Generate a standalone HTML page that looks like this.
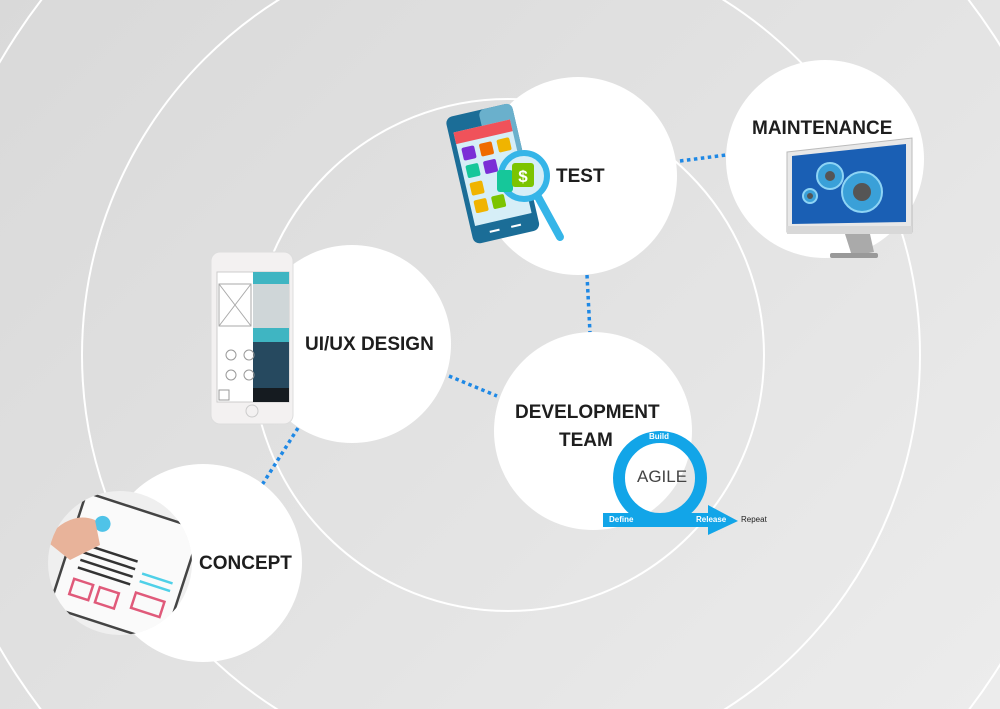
<!DOCTYPE html>
<html><head><meta charset="utf-8"><style>
html,body{margin:0;padding:0;width:1000px;height:709px;overflow:hidden}
body{background:linear-gradient(135deg,#d9d9d9 0%,#e2e2e2 50%,#ececec 100%);font-family:"Liberation Sans",sans-serif;position:relative}
svg{display:block}
</style></head><body>
<svg width="1000" height="709" viewBox="0 0 1000 709" xmlns="http://www.w3.org/2000/svg" style="position:absolute;left:0;top:0">
<defs><clipPath id="cc"><circle cx="120" cy="563" r="72"/></clipPath></defs>
<g fill="none" stroke="#fff" stroke-width="2">
<circle cx="508" cy="355" r="256"/>
<circle cx="501" cy="355" r="419"/>
<circle cx="505" cy="355" r="584"/>
</g>
<g stroke="#1e88e5" stroke-width="3.5" stroke-dasharray="3.5 3.5" fill="none">
<line x1="680" y1="161" x2="726" y2="155"/>
<line x1="587" y1="275" x2="590" y2="333"/>
<line x1="449" y1="376" x2="497" y2="396"/>
<line x1="298" y1="428" x2="262" y2="485"/>
</g>
<g fill="#fff">
<circle cx="578" cy="176" r="99"/>
<circle cx="825" cy="159" r="99"/>
<circle cx="352" cy="344" r="99"/>
<circle cx="593" cy="431" r="99"/>
<circle cx="203" cy="563" r="99"/>
</g>
<g transform="translate(445,118) rotate(-13)">
<rect x="0" y="0" width="68" height="130" rx="7" fill="#1b6d97"/>
<rect x="34" y="0" width="34" height="60" rx="6" fill="#6ab0cc"/>
<rect x="5" y="16" width="58" height="96" fill="#d6eef7"/>
<rect x="5" y="16" width="58" height="12" fill="#f0525a"/>
<rect x="9" y="33" width="13" height="13" rx="2" fill="#7b2fd6"/>
<rect x="27" y="33" width="13" height="13" rx="2" fill="#ef6c00"/>
<rect x="45" y="33" width="13" height="13" rx="2" fill="#f0b400"/>
<rect x="9" y="51" width="13" height="13" rx="2" fill="#16c79a"/>
<rect x="27" y="51" width="13" height="13" rx="2" fill="#7b2fd6"/>
<rect x="9" y="69" width="13" height="13" rx="2" fill="#f0b400"/>
<rect x="9" y="87" width="13" height="13" rx="2" fill="#f0b400"/>
<rect x="27" y="87" width="13" height="13" rx="2" fill="#7cc400"/>
<rect x="18" y="120" width="10" height="2" fill="#fff"/><rect x="40" y="120" width="10" height="2" fill="#fff"/>
</g>
<line x1="537" y1="195" x2="560" y2="237" stroke="#35b5e8" stroke-width="8" stroke-linecap="round"/>
<circle cx="524" cy="176" r="23" fill="#d6eef7" stroke="#35b5e8" stroke-width="6"/>
<rect x="497" y="170" width="16" height="22" rx="3" fill="#16c79a"/>
<rect x="512" y="163" width="22" height="24" rx="3" fill="#7cc400"/>
<text x="523" y="182" font-size="17" font-weight="bold" fill="#fff" text-anchor="middle">$</text>
<path d="M787 152 L912 138 L912 232 L787 232 Z" fill="#e8e8e8" stroke="#bbb"/>
<path d="M792 156 L906 144 L906 222 L792 224 Z" fill="#1a5fb4"/>
<rect x="787" y="226" width="125" height="8" fill="#d8d8d8"/>
<path d="M845 234 L870 234 L874 252 L852 256 Z" fill="#aaa"/>
<rect x="830" y="253" width="48" height="5" rx="2" fill="#999"/>
<g fill="#3aa0d8" stroke="#8ed4f5" stroke-width="2">
<circle cx="862" cy="192" r="20"/><circle cx="830" cy="176" r="13"/><circle cx="810" cy="196" r="7"/>
</g>
<g fill="#555"><circle cx="862" cy="192" r="9"/><circle cx="830" cy="176" r="5"/><circle cx="810" cy="196" r="3"/></g>
<rect x="211" y="252" width="82" height="172" rx="9" fill="#f3f1f1" stroke="#ddd"/>
<rect x="217" y="272" width="72" height="130" fill="#fff" stroke="#ccc"/>
<rect x="253" y="272" width="36" height="130" fill="#26495f"/>
<rect x="253" y="272" width="36" height="12" fill="#3fb5c2"/>
<rect x="253" y="284" width="36" height="44" fill="#cfd6d8"/>
<rect x="253" y="328" width="36" height="14" fill="#3fb5c2"/>
<rect x="253" y="388" width="36" height="14" fill="#151b20"/>
<path d="M219 284 L251 284 L251 326 L219 326 Z M219 284 L251 326 M251 284 L219 326" fill="none" stroke="#aaa"/>
<g fill="none" stroke="#999"><circle cx="231" cy="355" r="5"/><circle cx="249" cy="355" r="5"/><circle cx="231" cy="375" r="5"/><circle cx="249" cy="375" r="5"/><rect x="219" y="390" width="10" height="10"/></g>
<circle cx="252" cy="411" r="6" fill="none" stroke="#ccc"/>
<g clip-path="url(#cc)">
<rect x="40" y="480" width="160" height="170" fill="#efefef"/>
<g transform="translate(125,568) rotate(18)" stroke-width="2.5">
<rect x="-60" y="-60" width="120" height="120" fill="#fafafa" stroke="#444"/>
<circle cx="-35" cy="-35" r="8" fill="#4fc3e8"/>
<g stroke="#333"><line x1="-45" y1="-10" x2="10" y2="-10"/><line x1="-45" y1="-2" x2="10" y2="-2"/><line x1="-45" y1="6" x2="10" y2="6"/><line x1="-45" y1="14" x2="10" y2="14"/></g>
<g stroke="#4fd0e8"><line x1="18" y1="0" x2="50" y2="0"/><line x1="18" y1="8" x2="50" y2="8"/></g>
<g stroke="#e05a7a" fill="none"><rect x="-45" y="26" width="20" height="16"/><rect x="-18" y="26" width="20" height="16"/><rect x="18" y="20" width="30" height="16"/></g>
</g>
<path d="M45 540 Q70 510 95 520 L100 545 L70 560 Z" fill="#e8b39a"/>
</g>
<circle cx="660" cy="478" r="41" fill="none" stroke="#12a5e8" stroke-width="12"/>
<path d="M603 513 L708 513 L708 505 L738 521 L708 535 L708 527 L603 527 Z" fill="#12a5e8"/>
</svg>
<div style="position:absolute;left:0;top:0;width:1000px;height:709px;overflow:hidden;font-weight:bold;font-size:19px;color:#1e1e1e">
<div style="position:absolute;left:556px;top:166px">TEST</div>
<div style="position:absolute;left:752px;top:118px">MAINTENANCE</div>
<div style="position:absolute;left:305px;top:334px">UI/UX DESIGN</div>
<div style="position:absolute;left:515px;top:402px">DEVELOPMENT</div>
<div style="position:absolute;left:559px;top:430px">TEAM</div>
<div style="position:absolute;left:199px;top:553px">CONCEPT</div>
<div style="position:absolute;left:637px;top:467px;font-weight:normal;font-size:17px;color:#444">AGILE</div>
<div style="position:absolute;left:649px;top:432px;font-size:8px;color:#fff">Build</div>
<div style="position:absolute;left:609px;top:515px;font-size:8px;color:#fff">Define</div>
<div style="position:absolute;left:696px;top:515px;font-size:8px;color:#fff">Release</div>
<div style="position:absolute;left:741px;top:515px;font-size:8px;font-weight:normal;color:#222">Repeat</div>
</div>
</body></html>
